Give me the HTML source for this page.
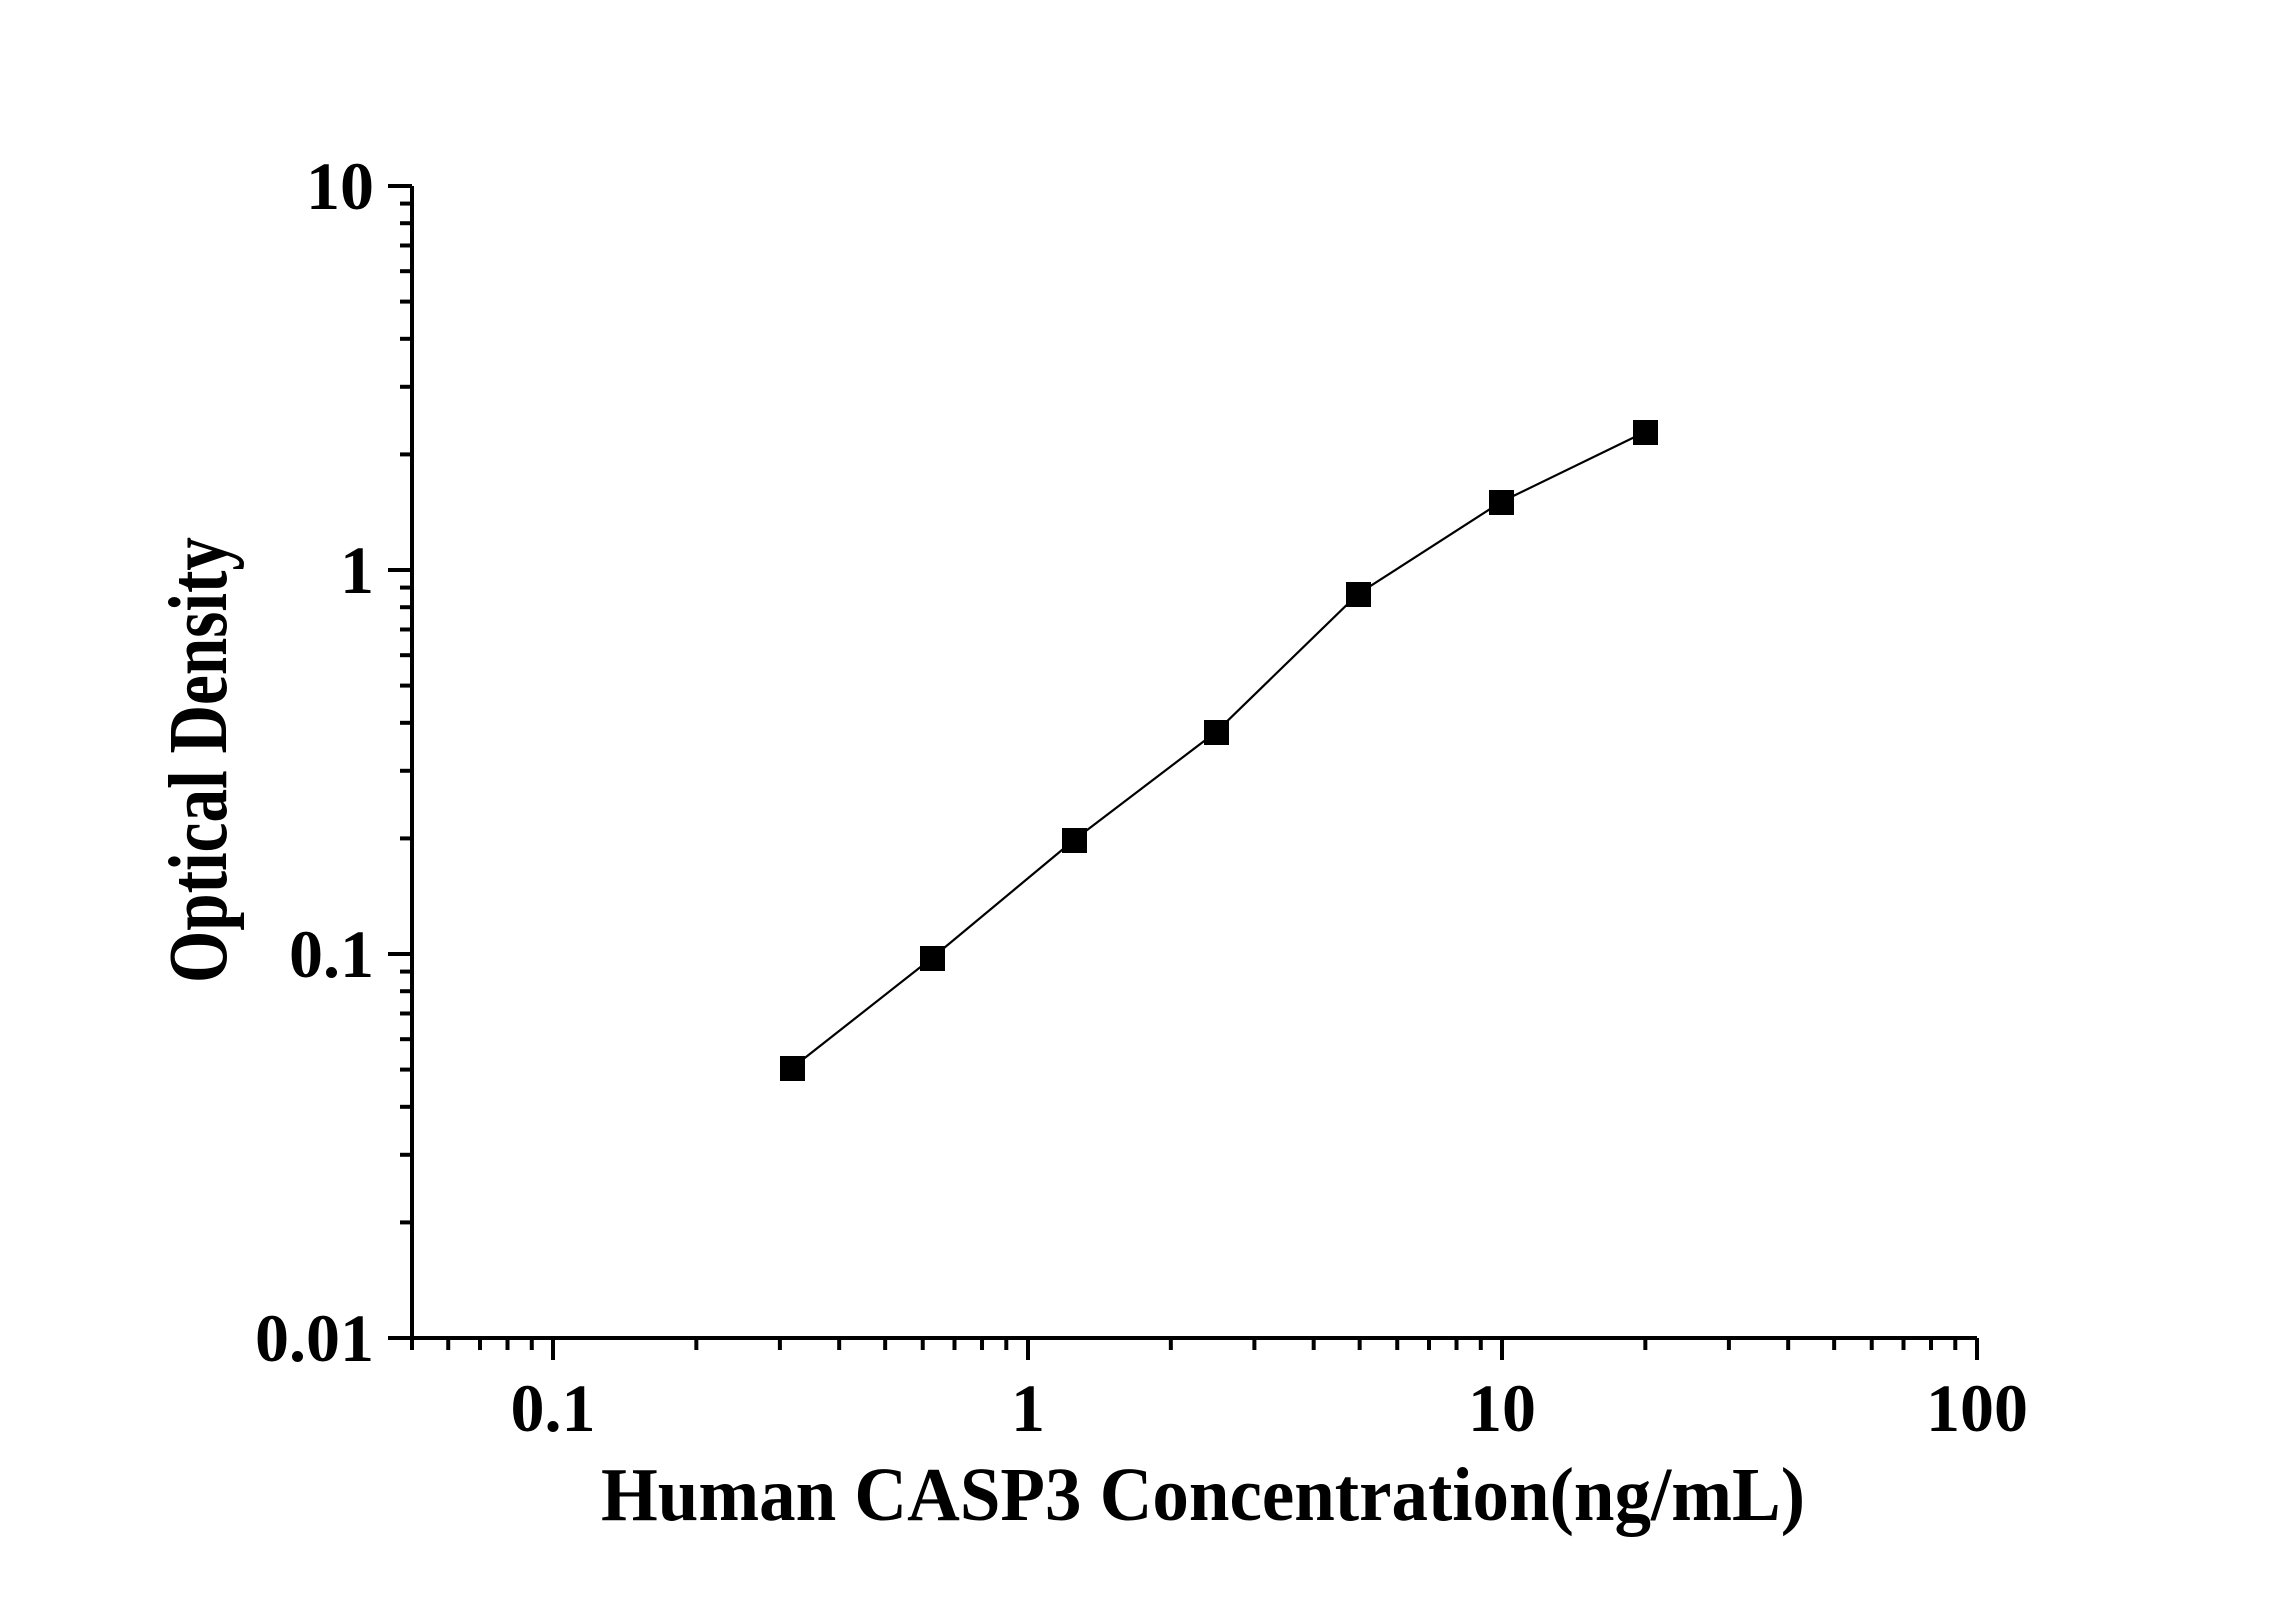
<!DOCTYPE html>
<html><head><meta charset="utf-8"><style>html,body{margin:0;padding:0;background:#fff}svg{display:block}</style></head>
<body>
<svg width="2296" height="1604" viewBox="0 0 2296 1604" xmlns="http://www.w3.org/2000/svg">
<rect width="2296" height="1604" fill="#fff"/>
<g stroke="#000" stroke-width="4" fill="none">
<line x1="412" y1="186" x2="412" y2="1338"/>
<line x1="388" y1="1338" x2="1977" y2="1338"/>
<line x1="388" y1="186" x2="412" y2="186"/>
<line x1="388" y1="570" x2="412" y2="570"/>
<line x1="388" y1="954" x2="412" y2="954"/>
<line x1="553" y1="1338" x2="553" y2="1360"/>
<line x1="1028" y1="1338" x2="1028" y2="1360"/>
<line x1="1502" y1="1338" x2="1502" y2="1360"/>
<line x1="1977" y1="1338" x2="1977" y2="1360"/>
<line x1="412" y1="1338" x2="412" y2="1350"/>
</g>
<g id="ticks" stroke="#000" stroke-width="4"></g>
<polyline fill="none" stroke="#000" stroke-width="2.2" points="792,1068 932,958 1074,840 1216,732 1358,594 1501,502 1645,432"/>
<g fill="#000">
<rect x="780" y="1056" width="25" height="25"/>
<rect x="920" y="946" width="25" height="25"/>
<rect x="1062" y="828" width="25" height="25"/>
<rect x="1204" y="720" width="25" height="25"/>
<rect x="1346" y="582" width="25" height="25"/>
<rect x="1489" y="490" width="25" height="25"/>
<rect x="1633" y="420" width="25" height="25"/>
</g>
<g font-family="Liberation Serif, serif" font-weight="bold" font-size="68" fill="#000">
<text x="374" y="209" text-anchor="end">10</text>
<text x="374" y="593" text-anchor="end">1</text>
<text x="374" y="977" text-anchor="end">0.1</text>
<text x="374" y="1361" text-anchor="end">0.01</text>
<text x="553" y="1431" text-anchor="middle">0.1</text>
<text x="1028" y="1431" text-anchor="middle">1</text>
<text x="1502" y="1431" text-anchor="middle">10</text>
<text x="1977" y="1431" text-anchor="middle">100</text>
<text x="601" y="1520" font-size="76" textLength="1204" lengthAdjust="spacingAndGlyphs">Human CASP3 Concentration(ng/mL)</text>
<text transform="translate(226,983) rotate(-90)" font-size="84" textLength="446" lengthAdjust="spacingAndGlyphs">Optical Density</text>
</g>
<script>
var g=document.getElementById('ticks'),ns='http://www.w3.org/2000/svg';
function L(a,b,c,d){var l=document.createElementNS(ns,'line');l.setAttribute('x1',a);l.setAttribute('y1',b);l.setAttribute('x2',c);l.setAttribute('y2',d);g.appendChild(l);}
for(var dec=0;dec<3;dec++){for(var m=2;m<10;m++){var y=570+dec*384-Math.log10(m)*384;L(400,y,412,y);}}
for(var e=-2;e<2;e++){for(var m=2;m<10;m++){var v=m*Math.pow(10,e);if(v<0.05||v>100)continue;var x=1028+Math.log10(v)*474.5;if(x<413)continue;L(x,1338,x,1350);}}
</script>
</svg>
</body></html>
